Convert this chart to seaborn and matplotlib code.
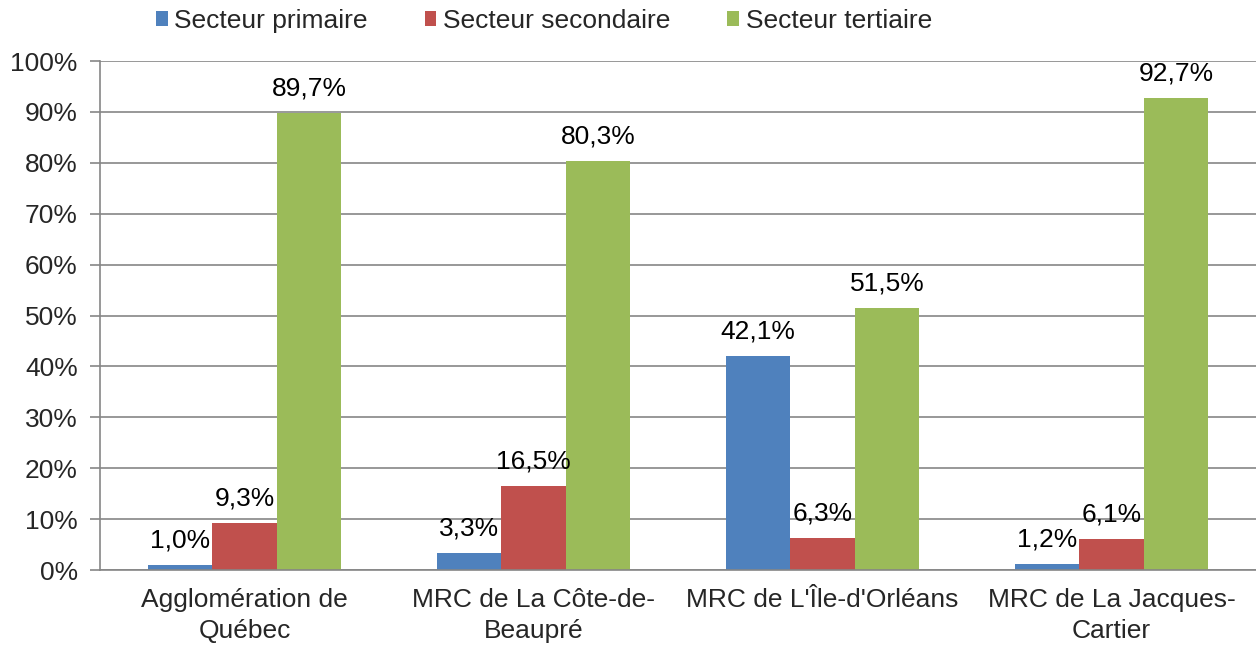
import matplotlib
matplotlib.use("Agg")
import matplotlib.pyplot as plt
import seaborn as sns
import pandas as pd
import numpy as np

categories = ["Agglomération de\nQuébec", "MRC de La Côte-de-\nBeaupré",
              "MRC de L'Île-d'Orléans", "MRC de La Jacques-\nCartier"]
series = ["Secteur primaire", "Secteur secondaire", "Secteur tertiaire"]
primaire = [1.0, 3.3, 42.1, 1.2]
secondaire = [9.3, 16.5, 6.3, 6.1]
tertiaire = [89.7, 80.3, 51.5, 92.7]
colors = ["#4F81BD", "#C0504D", "#9BBB59"]

rows = []
for s, vals in zip(series, [primaire, secondaire, tertiaire]):
    for c, v in zip(categories, vals):
        rows.append({"cat": c, "serie": s, "val": v})
df = pd.DataFrame(rows)

sns.set_style("white")
plt.rcParams["font.family"] = ["Liberation Sans", "DejaVu Sans"]

FS = 19

fig = plt.figure(figsize=(12.56, 6.47), dpi=100)
ax = fig.add_axes([0.0796, 0.119, 0.9204, 0.7867])

sns.barplot(data=df, x="cat", y="val", hue="serie", palette=colors,
            width=0.67, gap=0, saturation=1, ax=ax, legend=True,
            edgecolor="none")

for cont in ax.containers:
    labels = [f"{v:.1f}%".replace(".", ",") for v in cont.datavalues]
    ax.bar_label(cont, labels=labels, padding=9, fontsize=FS, color="#000000")

ax.set_ylim(0, 100)
ax.set_xlim(-0.5, 3.5)
ax.set_yticks(np.arange(0, 101, 10))
ax.set_yticklabels([f"{t}%" for t in range(0, 101, 10)], fontsize=FS)
ax.set_xticks(range(4))
ax.set_xticklabels(categories, fontsize=FS, linespacing=1.35)
ax.set_xlabel("")
ax.set_ylabel("")
ax.set_xticks([0.5, 1.5, 2.5, 3.5], minor=True)
ax.tick_params(axis="x", which="major", length=0, pad=13)
ax.tick_params(axis="x", which="minor", length=7, color="#868686", width=1.2, direction="out")
ax.tick_params(axis="y", length=7, color="#868686", width=1.2, direction="out", pad=9, left=True)

ax.yaxis.grid(True, color="#868686", linewidth=1.2)
ax.set_axisbelow(True)
for side in ["top", "right"]:
    ax.spines[side].set_visible(False)
for side in ["left", "bottom"]:
    ax.spines[side].set_color("#868686")
    ax.spines[side].set_linewidth(1.2)

handles, labels = ax.get_legend_handles_labels()
ax.get_legend().remove()
fig.legend(handles, labels, loc="center", bbox_to_anchor=(0.433, 0.968), ncol=3,
           frameon=False, fontsize=FS, handlelength=0.45, handleheight=0.5,
           handletextpad=0.25, columnspacing=2.15)

fig.savefig("out.png", dpi=100)
